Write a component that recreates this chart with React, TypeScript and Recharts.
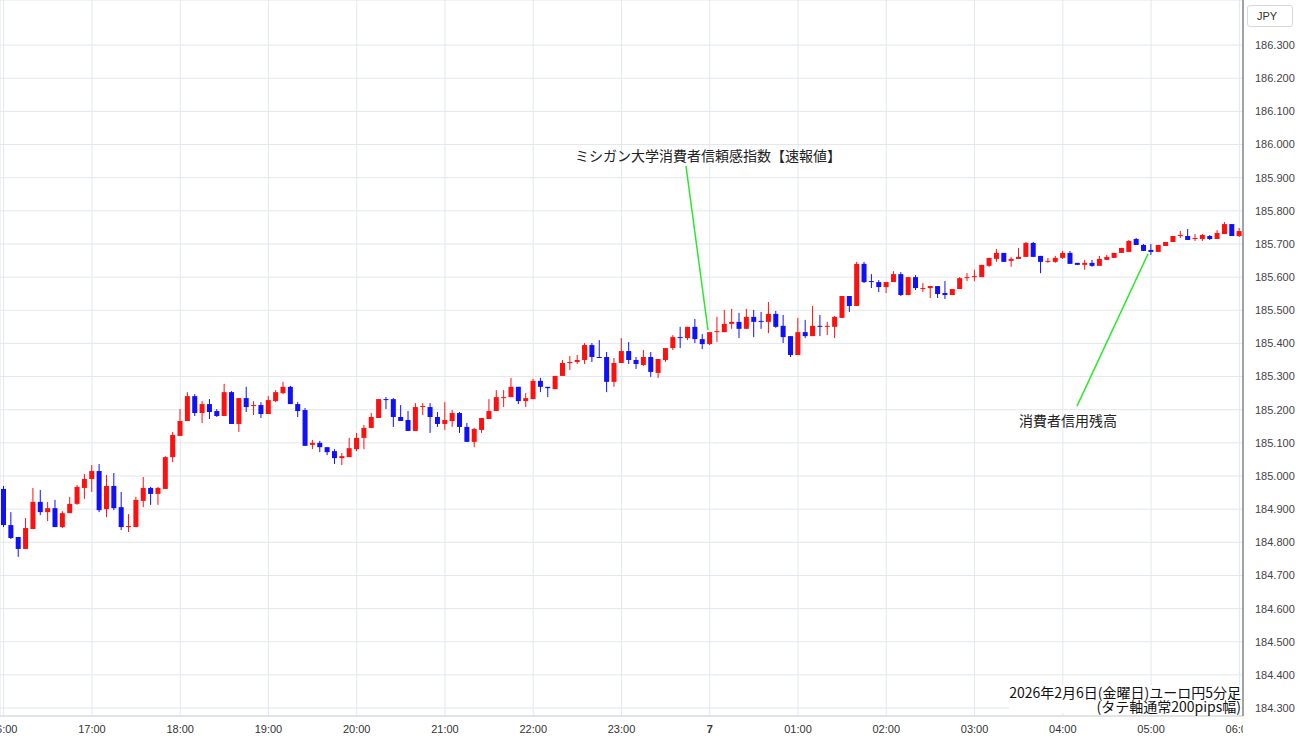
import React from 'react';
import { ComposedChart, Bar, XAxis, YAxis, CartesianGrid, ReferenceLine } from 'recharts';

// EUR/JPY 5-minute candles, 2026-02-06 16:00 -> 2026-02-07 06:00
const hourLabels = ['16:00', '17:00', '18:00', '19:00', '20:00', '21:00', '22:00', '23:00', '7', '01:00', '02:00', '03:00', '04:00', '05:00', '06:00'];
const hourTicks = [0, 12, 24, 36, 48, 60, 72, 84, 96, 108, 120, 132, 144, 156, 168];
const priceTicks = [184.3, 184.4, 184.5, 184.6, 184.7, 184.8, 184.9, 185.0, 185.1, 185.2, 185.3, 185.4, 185.5, 185.6, 185.7, 185.8, 185.9, 186.0, 186.1, 186.2, 186.3];

const openP = [
  184.961, 184.852, 184.816, 184.780, 184.840, 184.922, 184.891, 184.903, 184.846, 184.888,
  184.916, 184.964, 184.991, 185.015, 184.900, 184.970, 184.906, 184.846, 184.846, 184.925,
  184.964, 184.946, 184.961, 185.057, 185.121, 185.166, 185.241, 185.190, 185.217, 185.196,
  185.181, 185.253, 185.157, 185.235, 185.211, 185.214, 185.187, 185.226, 185.250, 185.269,
  185.217, 185.199, 185.094, 185.100, 185.087, 185.075, 185.054, 185.057, 185.081, 185.115,
  185.145, 185.175, 185.232, 185.232, 185.178, 185.169, 185.136, 185.208, 185.208, 185.178,
  185.157, 185.166, 185.190, 185.148, 185.103, 185.139, 185.172, 185.196, 185.235, 185.238,
  185.269, 185.226, 185.232, 185.287, 185.269, 185.262, 185.302, 185.341, 185.344, 185.350,
  185.395, 185.359, 185.359, 185.284, 185.341, 185.377, 185.350, 185.335, 185.359, 185.311,
  185.350, 185.386, 185.419, 185.416, 185.450, 185.413, 185.398, 185.434, 185.434, 185.459,
  185.465, 185.444, 185.480, 185.468, 185.465, 185.489, 185.453, 185.422, 185.365, 185.434,
  185.422, 185.453, 185.450, 185.450, 185.477, 185.543, 185.513, 185.640, 185.588, 185.585,
  185.570, 185.585, 185.609, 185.546, 185.600, 185.564, 185.567, 185.573, 185.552, 185.546,
  185.564, 185.597, 185.600, 185.600, 185.634, 185.655, 185.673, 185.649, 185.655, 185.661,
  185.703, 185.664, 185.646, 185.646, 185.658, 185.673, 185.643, 185.637, 185.643, 185.634,
  185.652, 185.658, 185.673, 185.676, 185.715, 185.697, 185.682, 185.676, 185.694, 185.706,
  185.724, 185.724, 185.715, 185.715, 185.724, 185.715, 185.730, 185.760, 185.724,
];
const highP = [
  184.970, 184.891, 184.816, 184.873, 184.964, 184.958, 184.922, 184.928, 184.894, 184.937,
  184.973, 185.006, 185.033, 185.036, 185.003, 185.009, 184.952, 184.885, 184.937, 184.997,
  184.967, 184.967, 185.060, 185.133, 185.202, 185.253, 185.247, 185.226, 185.232, 185.202,
  185.278, 185.256, 185.235, 185.269, 185.226, 185.223, 185.241, 185.259, 185.284, 185.272,
  185.223, 185.205, 185.109, 185.106, 185.087, 185.081, 185.069, 185.115, 185.130, 185.154,
  185.190, 185.232, 185.238, 185.235, 185.214, 185.196, 185.220, 185.220, 185.220, 185.193,
  185.223, 185.199, 185.193, 185.160, 185.145, 185.175, 185.232, 185.259, 185.259, 185.296,
  185.269, 185.250, 185.293, 185.296, 185.269, 185.302, 185.350, 185.362, 185.365, 185.401,
  185.401, 185.410, 185.374, 185.356, 185.416, 185.404, 185.359, 185.380, 185.374, 185.353,
  185.386, 185.425, 185.450, 185.450, 185.474, 185.428, 185.434, 185.480, 185.501, 185.504,
  185.492, 185.504, 185.501, 185.495, 185.525, 185.498, 185.486, 185.422, 185.477, 185.471,
  185.513, 185.486, 185.465, 185.483, 185.543, 185.543, 185.646, 185.646, 185.609, 185.591,
  185.585, 185.618, 185.615, 185.600, 185.606, 185.582, 185.573, 185.573, 185.588, 185.564,
  185.600, 185.612, 185.622, 185.637, 185.658, 185.685, 185.673, 185.661, 185.688, 185.706,
  185.706, 185.664, 185.658, 185.664, 185.679, 185.679, 185.643, 185.652, 185.652, 185.664,
  185.667, 185.673, 185.688, 185.712, 185.718, 185.700, 185.700, 185.697, 185.706, 185.724,
  185.739, 185.745, 185.730, 185.730, 185.727, 185.742, 185.766, 185.760, 185.748,
];
const lowP = [
  184.846, 184.810, 184.756, 184.780, 184.840, 184.882, 184.864, 184.846, 184.843, 184.888,
  184.913, 184.931, 184.952, 184.891, 184.876, 184.897, 184.837, 184.831, 184.846, 184.906,
  184.913, 184.913, 184.961, 185.042, 185.121, 185.166, 185.181, 185.160, 185.172, 185.178,
  185.181, 185.157, 185.133, 185.193, 185.184, 185.175, 185.187, 185.223, 185.247, 185.217,
  185.178, 185.091, 185.081, 185.072, 185.063, 185.036, 185.033, 185.057, 185.075, 185.081,
  185.145, 185.175, 185.202, 185.148, 185.166, 185.136, 185.136, 185.184, 185.130, 185.148,
  185.139, 185.148, 185.130, 185.103, 185.087, 185.130, 185.172, 185.196, 185.208, 185.238,
  185.217, 185.208, 185.232, 185.253, 185.238, 185.262, 185.302, 185.320, 185.338, 185.338,
  185.344, 185.356, 185.253, 185.269, 185.341, 185.338, 185.323, 185.332, 185.299, 185.296,
  185.344, 185.380, 185.386, 185.410, 185.401, 185.383, 185.395, 185.404, 185.434, 185.444,
  185.416, 185.444, 185.419, 185.444, 185.431, 185.447, 185.401, 185.359, 185.365, 185.416,
  185.422, 185.422, 185.425, 185.416, 185.477, 185.495, 185.513, 185.582, 185.567, 185.555,
  185.552, 185.585, 185.543, 185.546, 185.561, 185.555, 185.537, 185.537, 185.534, 185.546,
  185.564, 185.588, 185.588, 185.600, 185.631, 185.646, 185.646, 185.631, 185.655, 185.661,
  185.661, 185.612, 185.643, 185.643, 185.655, 185.640, 185.637, 185.622, 185.631, 185.634,
  185.652, 185.658, 185.673, 185.676, 185.697, 185.679, 185.667, 185.676, 185.694, 185.706,
  185.718, 185.712, 185.709, 185.709, 185.712, 185.715, 185.730, 185.724, 185.721,
];
const closeP = [
  184.852, 184.813, 184.780, 184.843, 184.922, 184.891, 184.903, 184.846, 184.888, 184.916,
  184.967, 184.991, 185.015, 184.897, 184.970, 184.903, 184.846, 184.849, 184.928, 184.964,
  184.946, 184.964, 185.057, 185.124, 185.166, 185.241, 185.190, 185.217, 185.193, 185.181,
  185.253, 185.157, 185.235, 185.208, 185.214, 185.187, 185.229, 185.253, 185.269, 185.217,
  185.196, 185.091, 185.100, 185.087, 185.072, 185.054, 185.060, 185.084, 185.115, 185.145,
  185.178, 185.232, 185.229, 185.178, 185.166, 185.136, 185.208, 185.211, 185.178, 185.157,
  185.169, 185.190, 185.148, 185.103, 185.142, 185.175, 185.196, 185.238, 185.238, 185.269,
  185.226, 185.235, 185.287, 185.269, 185.265, 185.302, 185.341, 185.344, 185.350, 185.395,
  185.359, 185.356, 185.284, 185.341, 185.377, 185.350, 185.338, 185.359, 185.314, 185.353,
  185.386, 185.419, 185.416, 185.450, 185.413, 185.398, 185.434, 185.437, 185.459, 185.465,
  185.444, 185.480, 185.465, 185.465, 185.489, 185.450, 185.419, 185.365, 185.434, 185.422,
  185.453, 185.450, 185.453, 185.480, 185.543, 185.513, 185.640, 185.585, 185.585, 185.570,
  185.585, 185.609, 185.546, 185.600, 185.567, 185.567, 185.573, 185.549, 185.546, 185.564,
  185.597, 185.600, 185.603, 185.637, 185.658, 185.673, 185.646, 185.655, 185.661, 185.703,
  185.661, 185.646, 185.649, 185.658, 185.673, 185.640, 185.637, 185.643, 185.634, 185.655,
  185.661, 185.673, 185.688, 185.709, 185.697, 185.679, 185.676, 185.697, 185.706, 185.724,
  185.727, 185.712, 185.718, 185.727, 185.715, 185.733, 185.760, 185.724, 185.739,
];

const UP = '#ff1010';
const DOWN = '#1010ff';
const PLOT_RIGHT = 1243;

const data = openP.map((o, i) => ({ i, o, h: highP[i], l: lowP[i], c: closeP[i] }));

const Candle = (props: any) => {
  const { x, y, width, height, payload } = props;
  if (!payload) return null;
  const top = Math.min(y, y + height);
  const bot = Math.max(y, y + height);
  const { o, h, l, c } = payload;
  const span = h - l || 1;
  const py = (v: number) => top + ((h - v) / span) * (bot - top);
  const col = c >= o ? UP : DOWN;
  const cx = x + width / 2;
  const bTop = py(Math.max(o, c));
  const bBot = py(Math.min(o, c));
  return (
    <g>
      <line x1={cx} x2={cx} y1={top} y2={bot} stroke={col} strokeWidth={1} />
      <rect x={x} y={bTop} width={width} height={Math.max(1, bBot - bTop)} fill={col} />
    </g>
  );
};

const XTick = (props: any) => {
  const { x, y, payload, index } = props;
  const label = hourLabels[Math.round(payload.value / 12)];
  const id = 'xclip' + index;
  return (
    <g>
      <defs>
        <clipPath id={id}>
          <rect x={0} y={0} width={PLOT_RIGHT} height={745} />
        </clipPath>
      </defs>
      <text
        x={x}
        y={y + 17}
        textAnchor="middle"
        fontSize={11}
        fill="#333"
        fontWeight={label === '7' ? 'bold' : 'normal'}
        clipPath={`url(#${id})`}
      >
        {label}
      </text>
    </g>
  );
};

export default function App() {
  return (
    <div
      style={{
        position: 'absolute',
        left: 0,
        top: 0,
        width: 1300,
        height: 745,
        background: '#fff',
        fontFamily: '"Liberation Sans", Arial, sans-serif',
      }}
    >
      <ComposedChart width={1300} height={745} data={data} margin={{ top: 0, right: 0, bottom: 0, left: 0 }}>
        <CartesianGrid stroke="#e2e8ec" />
        <XAxis
          type="number"
          dataKey="i"
          domain={[-0.5, 168.5]}
          allowDataOverflow
          ticks={hourTicks}
          interval={0}
          height={29}
          tickLine={false}
          tickSize={0}
          tickMargin={0}
          axisLine={{ stroke: '#d4d4d4' }}
          tick={<XTick />}
        />
        <YAxis
          orientation="right"
          width={57}
          type="number"
          domain={[184.276, 186.436]}
          allowDataOverflow
          ticks={priceTicks}
          interval={0}
          tickFormatter={(v: number) => v.toFixed(3)}
          tick={{ fontSize: 11, fill: '#444' }}
          tickLine={false}
          tickSize={0}
          tickMargin={12}
          axisLine={{ stroke: '#555' }}
        />
        <Bar
          dataKey={(d: any) => [d.l, d.h]}
          barSize={5}
          shape={(p: any) => <Candle {...p} />}
          isAnimationActive={false}
        />
        <ReferenceLine
          segment={[{ x: 92.77, y: 185.935 }, { x: 95.76, y: 185.44 }]}
          stroke="#2ee62e"
          strokeWidth={1.5}
          ifOverflow="visible"
        />
        <ReferenceLine
          segment={[{ x: 145.93, y: 185.211 }, { x: 155.58, y: 185.67 }]}
          stroke="#2ee62e"
          strokeWidth={1.5}
          ifOverflow="visible"
        />
      </ComposedChart>
      <div
        style={{
          position: 'absolute',
          left: 708,
          top: 146,
          transform: 'translateX(-50%)',
          whiteSpace: 'nowrap',
          fontSize: 14,
          lineHeight: '18px',
          color: '#222',
          fontFamily: '"Noto Sans CJK JP", sans-serif',
        }}
      >
        ミシガン大学消費者信頼感指数【速報値】
      </div>
      <div
        style={{
          position: 'absolute',
          left: 1068,
          top: 411,
          transform: 'translateX(-50%)',
          whiteSpace: 'nowrap',
          fontSize: 14,
          lineHeight: '18px',
          color: '#222',
          fontFamily: '"Noto Sans CJK JP", sans-serif',
        }}
      >
        消費者信用残高
      </div>
      <div
        style={{
          position: 'absolute',
          right: 59,
          top: 685,
          textAlign: 'right',
          whiteSpace: 'nowrap',
          fontSize: 14,
          lineHeight: '14px',
          color: '#111',
          background: '#fff',
          fontFamily: '"Noto Sans CJK JP", sans-serif',
        }}
      >
        <div>2026年2月6日(金曜日)ユーロ円5分足</div>
        <div>(タテ軸通常200pips幅)</div>
      </div>
      <div
        style={{
          position: 'absolute',
          left: 1247,
          top: 5,
          width: 46,
          height: 22,
          boxSizing: 'border-box',
          border: '1px solid #d8d8d8',
          borderRadius: 3,
          fontSize: 11,
          lineHeight: '20px',
          paddingLeft: 9,
          color: '#333',
          background: '#fff',
        }}
      >
        JPY
      </div>
    </div>
  );
}
